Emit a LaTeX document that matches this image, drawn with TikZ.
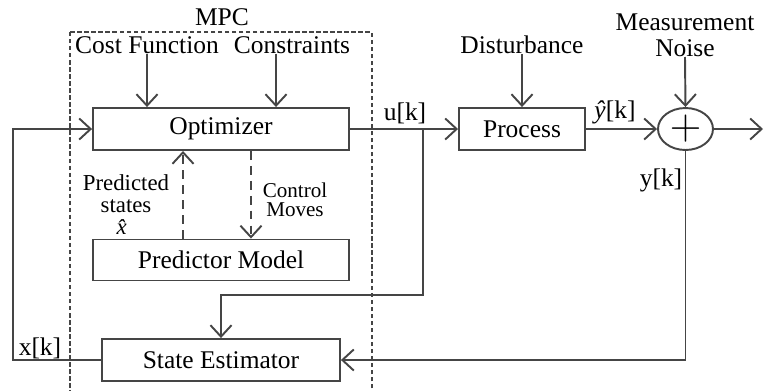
\documentclass[tikz,border=0pt]{standalone}
\usepackage{fontspec}
\setmainfont{Liberation Serif}
\usepackage{amsmath}
\usepackage{tikz}
\usetikzlibrary{positioning, shapes, arrows.meta, calc}
\definecolor{linegray}{rgb}{0.27, 0.27, 0.27}

\begin{document}
\begin{tikzpicture}[x=0.02cm, y=-0.02cm, every node/.style={font=\fontsize{14.5}{15}\selectfont}]
			\tikzstyle{block}=[draw=linegray, line width=1.1pt, minimum height=0.84cm, inner sep=0pt]
			\tikzstyle{lbl}=[draw=none, inner sep=0pt, align=center]
			\tikzstyle{small}=[lbl, font=\fontsize{12.5}{12.5}\selectfont]
			\tikzstyle{wire}=[draw=linegray, line width=1.1pt, -{Straight Barb[length=6.5pt, width=12pt]}]
			\useasboundingbox (0,0) rectangle (765,390);
			%%
			\node (opt) at (221,129) [block, minimum width=5.12cm] {Optimizer};
			\node (pred) at (221,260) [block, minimum width=5.12cm, minimum height=0.82cm] {Predictor Model};
			\node (est) at (221,360) [block, minimum width=4.76cm] {State Estimator};
			\node (proc) at (522,129) [block, minimum width=2.52cm] {Process};
			\node (sum) at (685.5,129) [ellipse, draw=linegray, line width=1.1pt, minimum width=1.1cm, minimum height=0.84cm, inner sep=0pt] {\fontsize{25}{25}\selectfont$+$};
			
			\node (mpc) at (222,17) [lbl] {MPC};
			\node (cost) at (147,45) [lbl] {Cost Function};
			\node (cons) at (292,45) [lbl] {Constraints};
			\node (dist) at (522,45) [lbl] {Disturbance};
			\node (noise) at (685,35) [lbl] {Measurement\\Noise};
			
			\coordinate (br) at (423,129);
			\coordinate (bend) at (423,295);
			\coordinate (fb) at (13,360);
			\coordinate (out) at (763,129);
			
			%% MPC frame
			\draw [linegray, line width=0.6pt, dash pattern=on 2.5pt off 1.5pt] (70,32) rectangle (372,400);
			
			\draw [wire] (cost.south) -- (cost.south |- opt.north);
			\draw [wire] ([xshift=-0.32cm]cons.south) -- ([xshift=-0.32cm]cons.south |- opt.north);
			\draw [wire, dash pattern=on 5pt off 3.5pt] ([xshift=-0.76cm]pred.north) -- ([xshift=-0.76cm]opt.south);
			\draw [wire, dash pattern=on 5pt off 3.5pt] ([xshift=0.6cm]opt.south) -- ([xshift=0.6cm]pred.north);
			\draw [wire] (opt.east) -- (proc.west);
			\draw [wire] (br) -- (bend) -| (est.north);
			\draw [wire] (est.west) -- (fb) |- (opt.west);
			\draw [wire] (dist.south) -- (proc.north);
			\draw [wire] (proc.east) -- (sum.west);
			\draw [wire] (noise.south) -- (sum.north);
			\draw [wire] (sum.east) -- (out);
			\draw [wire] (sum.south) |- (est.east);
			
			\node (luk) at (405,113) [lbl] {u[k]};
			\node (lyhat) at (615,112) [lbl] {\textit{\^y}[k]};
			\node (lyk) at (661,180) [lbl] {y[k]};
			\node (lxk) at (40,348) [lbl] {x[k]};
			\node (lpred) at (126,205) [small, font=\fontsize{13}{12.5}\selectfont] {Predicted\\states\\\textit{\^x}};
			\node (lmoves) at (295,200) [small, font=\fontsize{12}{11}\selectfont] {Control\\Moves};
\end{tikzpicture}
\end{document}
